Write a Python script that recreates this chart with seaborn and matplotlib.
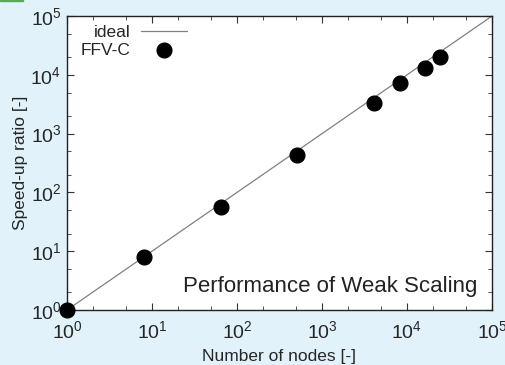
import numpy as np
import pandas as pd
import seaborn as sns
import matplotlib
matplotlib.use('Agg')
import matplotlib.pyplot as plt
from matplotlib.ticker import LogLocator, NullFormatter

# measured weak scaling, FFV-C
nodes = [1, 8, 64, 512, 4096, 8192, 16384, 24576]
speedup = [1, 8, 57, 430, 3300, 7300, 13000, 20000]
ideal_x = [1, 100000]
ideal_y = [1, 100000]

bg = '#e1f2fa'

sns.set_style('ticks')
plt.rcParams['font.family'] = ['Liberation Sans', 'DejaVu Sans']
plt.rcParams['mathtext.fontset'] = 'custom'
plt.rcParams['mathtext.rm'] = 'Liberation Sans'
plt.rcParams['mathtext.it'] = 'Liberation Sans'

fig = plt.figure(figsize=(5.06, 3.65), dpi=100, facecolor=bg)
ax = fig.add_axes([0.1324, 0.1507, 0.8399, 0.8053])
ax.set_facecolor('white')

df_ideal = pd.DataFrame({'x': ideal_x, 'y': ideal_y})
df = pd.DataFrame({'x': nodes, 'y': speedup})
sns.lineplot(data=df_ideal, x='x', y='y', ax=ax, color='#808080', lw=0.9, label='ideal')
sns.scatterplot(data=df, x='x', y='y', ax=ax, color='black', s=115, edgecolor='black',
                label='FFV-C', zorder=5, clip_on=False)

ax.set_xscale('log')
ax.set_yscale('log')
ax.set_xlim(1, 1e5)
ax.set_ylim(1, 1e5)
for axis in (ax.xaxis, ax.yaxis):
    axis.set_major_locator(LogLocator(base=10, numticks=10))
    axis.set_minor_locator(LogLocator(base=10, subs=[2, 5], numticks=10))
    axis.set_minor_formatter(NullFormatter())
ax.tick_params(which='both', direction='in', top=True, right=True, color='#333333')
ax.tick_params(which='major', length=5, width=0.8, labelsize=14)
ax.tick_params(axis='x', which='major', pad=7)
ax.tick_params(axis='y', which='major', pad=4)
ax.tick_params(which='minor', length=3, width=0.6)
for s in ax.spines.values():
    s.set_color('#222222')
    s.set_linewidth(1.0)

ax.set_xlabel('Number of nodes [-]', fontsize=12.5, labelpad=5)
ax.set_ylabel('Speed-up ratio [-]', fontsize=12.5, labelpad=2)

ax.text(0.965, 0.045, 'Performance of Weak Scaling', transform=ax.transAxes,
        ha='right', va='bottom', fontsize=16, color='#222222')

leg = ax.legend(loc='upper left', frameon=False, markerfirst=False, fontsize=12.5,
                handlelength=2.65, handletextpad=0.6, borderaxespad=0.1,
                labelspacing=0.15, bbox_to_anchor=(0.012, 1.0))
for t in leg.get_texts():
    t.set_ha('right')

fig.patches.append(plt.Rectangle((0, 0.996), 0.045, 0.004, transform=fig.transFigure,
                                 color='#5aa85a', zorder=10))

fig.savefig('out.png', dpi=100, facecolor=bg)
